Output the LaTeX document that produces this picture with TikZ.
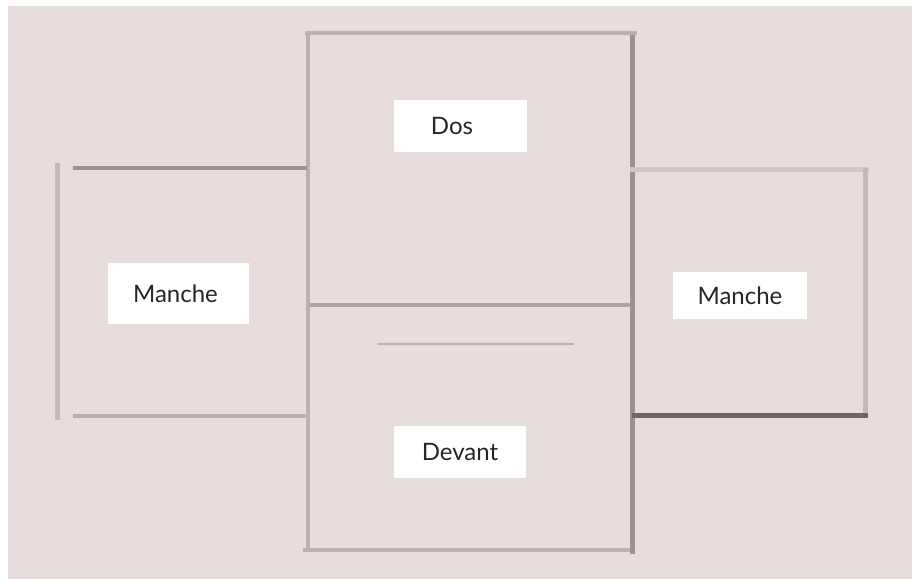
\documentclass[tikz,border=0pt]{standalone}
\usepackage{fontspec}
\setmainfont{Lato}
\usepackage{tikz}

\definecolor{bgpink}{HTML}{E8DDDD}
\definecolor{seamlight}{HTML}{BCB0B0}
\definecolor{seammid}{HTML}{AEA3A3}
\definecolor{seamdark}{HTML}{9D9191}
\definecolor{seampale}{HTML}{C4B9B9}
\definecolor{seamwhite}{HTML}{CFC8C6}
\definecolor{seamdeep}{HTML}{6E6767}

\tikzset{
  seam/.style={line width=4pt},
  tag/.style={fill=white,inner sep=0pt,font=\fontsize{24}{28}\selectfont,text=black!85}
}

\begin{document}
\begin{tikzpicture}[x=1pt,y=-1pt]
					\useasboundingbox (0,0) rectangle (912,579);
					\fill[bgpink] (8,6) rectangle (912,579);
					% dos et devant
					\draw[seam,seamlight] (305,33)--(637,33);
					\draw[seam,seamlight] (308,33)--(308,550);
					\draw[seam,seamlight] (303,550)--(635,550);
					\draw[seam,seammid] (310,305)--(632,305);
					\draw[line width=5pt,seamdark] (632,35)--(632,554);
					\draw[line width=1.5pt,seamlight] (377,344)--(574,344);
					% manche gauche
					\draw[line width=5pt,seampale] (57,163)--(57,420);
					\draw[seam,seamdark] (73,168)--(307,168);
					\draw[seam,seamlight] (73,415.5)--(307,415.5);
					% manche droite
					\draw[line width=5pt,seamwhite] (630,169)--(869,169);
					\draw[line width=5pt,seampale] (865,168)--(865,418);
					\draw[line width=5pt,seamdeep] (632,415.5)--(868,415.5);
					% etiquettes
					\node[tag,minimum width=133pt,minimum height=52pt] (dos) at (460.5,126) {Dos\hspace*{17pt}};
					\node[tag,minimum width=132pt,minimum height=52pt] (devant) at (460,452) {Devant};
					\node[tag,minimum width=141pt,minimum height=61pt] (mancheg) at (178.5,293.5) {Manche\hspace*{6pt}};
					\node[tag,minimum width=134pt,minimum height=47pt] (manched) at (740,295.5) {Manche};
				\end{tikzpicture}
\end{document}
